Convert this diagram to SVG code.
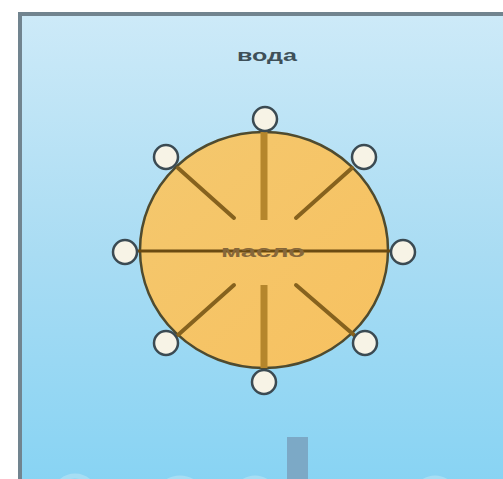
<svg xmlns="http://www.w3.org/2000/svg" width="503" height="479" viewBox="0 0 503 479">
<style>
.node{fill:#f7f3e6;stroke:#3b4a52;stroke-width:2.5}
.label{font-family:"Liberation Sans",Arial,sans-serif;font-weight:bold;text-anchor:middle}
.diag{stroke:#86621e;stroke-width:4;stroke-linecap:round}
.vert{stroke:#b5862c;stroke-width:7}
.frag{fill:none;stroke:#a6def4;stroke-width:5}
</style>
<defs>
<linearGradient id="water" x1="0" y1="0" x2="0" y2="1">
<stop offset="0" stop-color="#cdeaf8"/>
<stop offset="0.5" stop-color="#a9dcf3"/>
<stop offset="1" stop-color="#86d3f3"/>
</linearGradient>
<linearGradient id="oil" x1="0" y1="0" x2="1" y2="1">
<stop offset="0" stop-color="#f4c86e"/>
<stop offset="1" stop-color="#f7c160"/>
</linearGradient>
</defs>
<rect x="0" y="0" width="503" height="479" fill="#ffffff"/>
<g id="water-panel">
<rect x="20" y="14" width="500" height="480" fill="url(#water)" stroke="#71848f" stroke-width="4"/>
<text class="label" x="267" y="61" font-size="17" fill="#3e5059" textLength="60" lengthAdjust="spacingAndGlyphs">вода</text>
</g>
<g id="bottom-fragments">
<rect x="287" y="437" width="21" height="45" fill="#7ca9c6"/>
<ellipse class="frag" cx="75" cy="500" rx="22" ry="24"/>
<ellipse class="frag" cx="180" cy="502" rx="24" ry="24"/>
<ellipse class="frag" cx="255" cy="502" rx="22" ry="24"/>
<ellipse class="frag" cx="435" cy="502" rx="22" ry="24"/>
</g>
<g id="oil-drop">
<ellipse cx="264" cy="250" rx="124" ry="118" fill="url(#oil)" stroke="#4f4b2f" stroke-width="2.5"/>
</g>
<g id="connectors">
<line x1="136" y1="251" x2="392" y2="251" stroke="#6b4b12" stroke-width="3"/>
<line class="vert" x1="264" y1="132" x2="264" y2="220"/>
<line class="vert" x1="264" y1="285" x2="264" y2="368"/>
<line class="diag" x1="178" y1="168" x2="234" y2="218"/>
<line class="diag" x1="352" y1="168" x2="296" y2="218"/>
<line class="diag" x1="234" y1="285" x2="178" y2="335"/>
<line class="diag" x1="296" y1="285" x2="354" y2="335"/>
</g>
<g id="oil-label">
<text class="label" x="263" y="257" font-size="16" fill="#86673a" textLength="84" lengthAdjust="spacingAndGlyphs">масло</text>
</g>
<g id="n-top"><circle class="node" cx="265" cy="119" r="12"/></g>
<g id="n-top-left"><circle class="node" cx="166" cy="157" r="12"/></g>
<g id="n-top-right"><circle class="node" cx="364" cy="157" r="12"/></g>
<g id="n-left"><circle class="node" cx="125" cy="252" r="12"/></g>
<g id="n-right"><circle class="node" cx="403" cy="252" r="12"/></g>
<g id="n-bottom-left"><circle class="node" cx="166" cy="343" r="12"/></g>
<g id="n-bottom-right"><circle class="node" cx="365" cy="343" r="12"/></g>
<g id="n-bottom"><circle class="node" cx="264" cy="382" r="12"/></g>
</svg>
